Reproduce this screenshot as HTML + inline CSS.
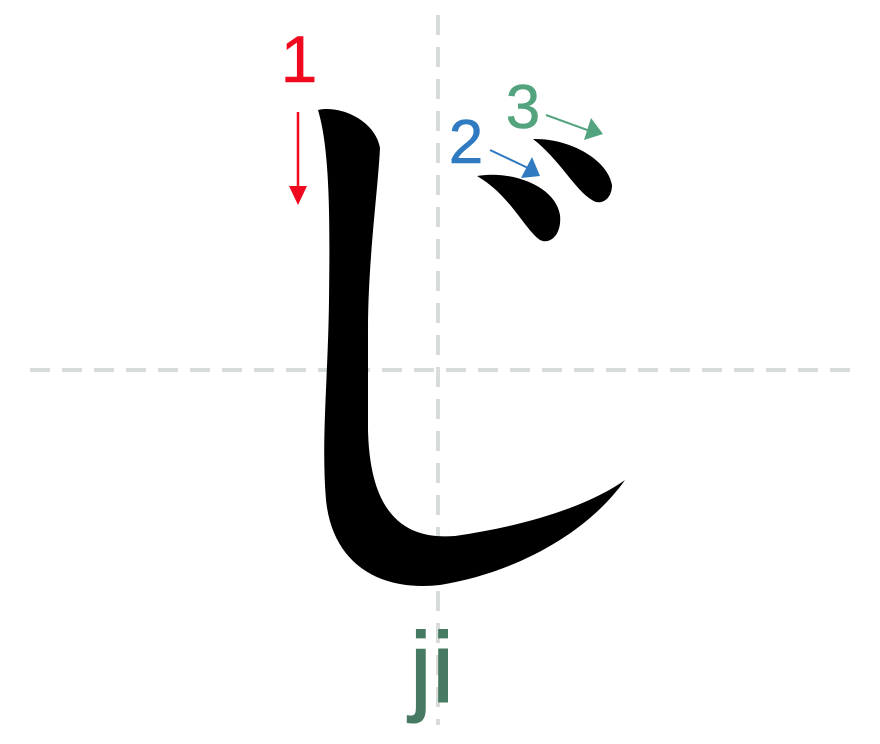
<!DOCTYPE html>
<html><head><style>html,body{margin:0;padding:0;background:#fff}</style></head><body>
<svg width="880" height="739" viewBox="0 0 880 739" xmlns="http://www.w3.org/2000/svg">
<g stroke="#d8dcdb" stroke-width="4" stroke-dasharray="20,12">
<line x1="438" y1="15" x2="438" y2="725"/>
<line x1="30" y1="370" x2="850" y2="370"/>
</g>
<path d="M318,110 C340,105 375,120 380,148 C378,190 368,260 368,330 L368,430 C370,515 405,540 455,536 C530,525 590,505 625,480 C590,530 520,572 440,585 C375,592 332,560 326,500 C321,440 328,380 329,300 C330,220 330,150 318,110 Z" fill="#000"/>
<path d="M477,176 C510,170 555,185 560,215 C562,235 550,245 540,240 C525,230 510,195 477,176 Z" fill="#000"/>
<path d="M533,139 C570,138 608,160 612,185 C612,200 600,206 592,200 C575,190 560,160 533,139 Z" fill="#000"/>
<line x1="298" y1="112" x2="298" y2="190" stroke="#f0081e" stroke-width="2.5"/>
<polygon points="289,186 307,186 298,205" fill="#f0081e"/>
<g font-family="Liberation Sans, sans-serif" text-anchor="middle">
<text x="299" y="82" font-size="66" fill="#f0081e" stroke="#f0081e" stroke-width="0.6">1</text>
<line x1="490" y1="150" x2="528" y2="168" stroke="#2f7ac0" stroke-width="2"/>
<polygon points="540,176 521,178 532,157" fill="#2f7ac0"/>
<text x="466" y="163" font-size="62" fill="#2f7ac0" stroke="#2f7ac0" stroke-width="0.6">2</text>
<line x1="546" y1="115" x2="590" y2="131" stroke="#52a37e" stroke-width="2"/>
<polygon points="603,134 584,140 591,118" fill="#52a37e"/>
<text x="523" y="128" font-size="62" fill="#52a37e" stroke="#52a37e" stroke-width="0.6">3</text>
<text x="432" y="702" font-size="100" fill="#477a62" stroke="#477a62" stroke-width="1">ji</text>
</g>
</svg>
</body></html>
